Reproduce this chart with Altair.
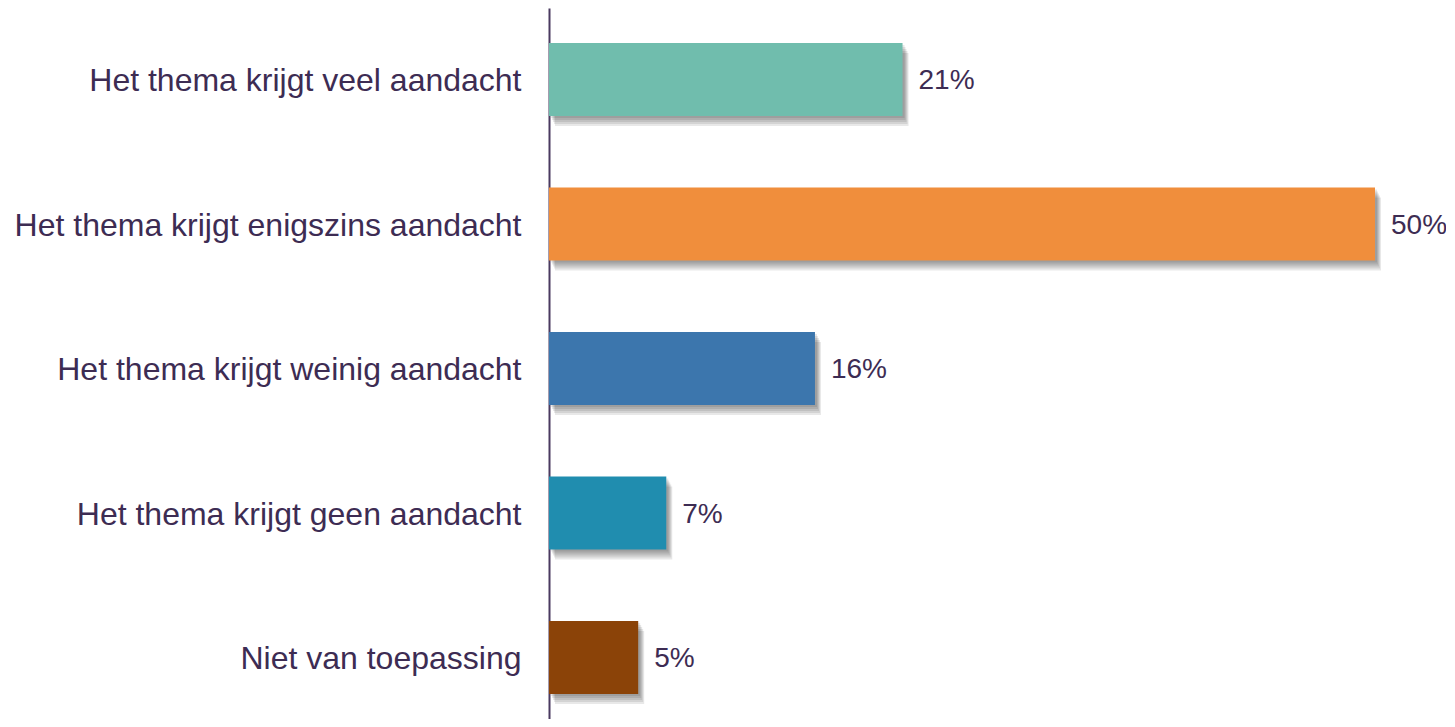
import altair as alt
import pandas as pd

categories = [
    "Het thema krijgt veel aandacht",
    "Het thema krijgt enigszins aandacht",
    "Het thema krijgt weinig aandacht",
    "Het thema krijgt geen aandacht",
    "Niet van toepassing",
]
values = [21.4, 50.0, 16.1, 7.1, 5.4]
labels = ["21%", "50%", "16%", "7%", "5%"]
colors = ["#70BDAD", "#F08E3C", "#3C76AD", "#208DAF", "#8B4308"]

df = pd.DataFrame({"cat": categories, "val": values, "label": labels})

TEXT = "#3D2C53"
FONT = "Liberation Sans"

y_enc = alt.Y(
    "cat:N",
    sort=categories,
    scale=alt.Scale(paddingInner=0.495, paddingOuter=0.2077, align=0.583),
    axis=alt.Axis(
        title=None,
        ticks=False,
        grid=False,
        domainColor="#4A3A60",
        domainWidth=2,
        labelFont=FONT,
        labelFontSize=32,
        labelColor=TEXT,
        labelPadding=28,
        labelLimit=0,
        labelOffset=2,
    ),
)
x_enc = alt.X("val:Q", scale=alt.Scale(domain=[0, 50], nice=False), axis=None)

base = alt.Chart(df)

shadows = [
    base.mark_bar(color="#000000", opacity=0.09, xOffset=dx, yOffset=dy).encode(x=x_enc, y=y_enc)
    for dx, dy in [(2, 2), (3, 4), (4, 6), (5, 8), (6, 10)]
]

bars = base.mark_bar().encode(
    x=x_enc,
    y=y_enc,
    color=alt.Color("cat:N", scale=alt.Scale(domain=categories, range=colors), legend=None),
)

text = base.mark_text(
    align="left", baseline="middle", dx=16, dy=2, font=FONT, fontSize=28, color=TEXT
).encode(x=x_enc, y=y_enc, text="label:N")

chart = alt.layer(*shadows, bars, text).properties(
    width=826,
    height=711,
    autosize=alt.AutoSizeParams(type="none"),
    padding={"left": 541, "top": 0, "right": 71, "bottom": 0},
).configure_view(stroke=None)

chart.save("out.html", embed_options={"renderer": "svg", "actions": False})
